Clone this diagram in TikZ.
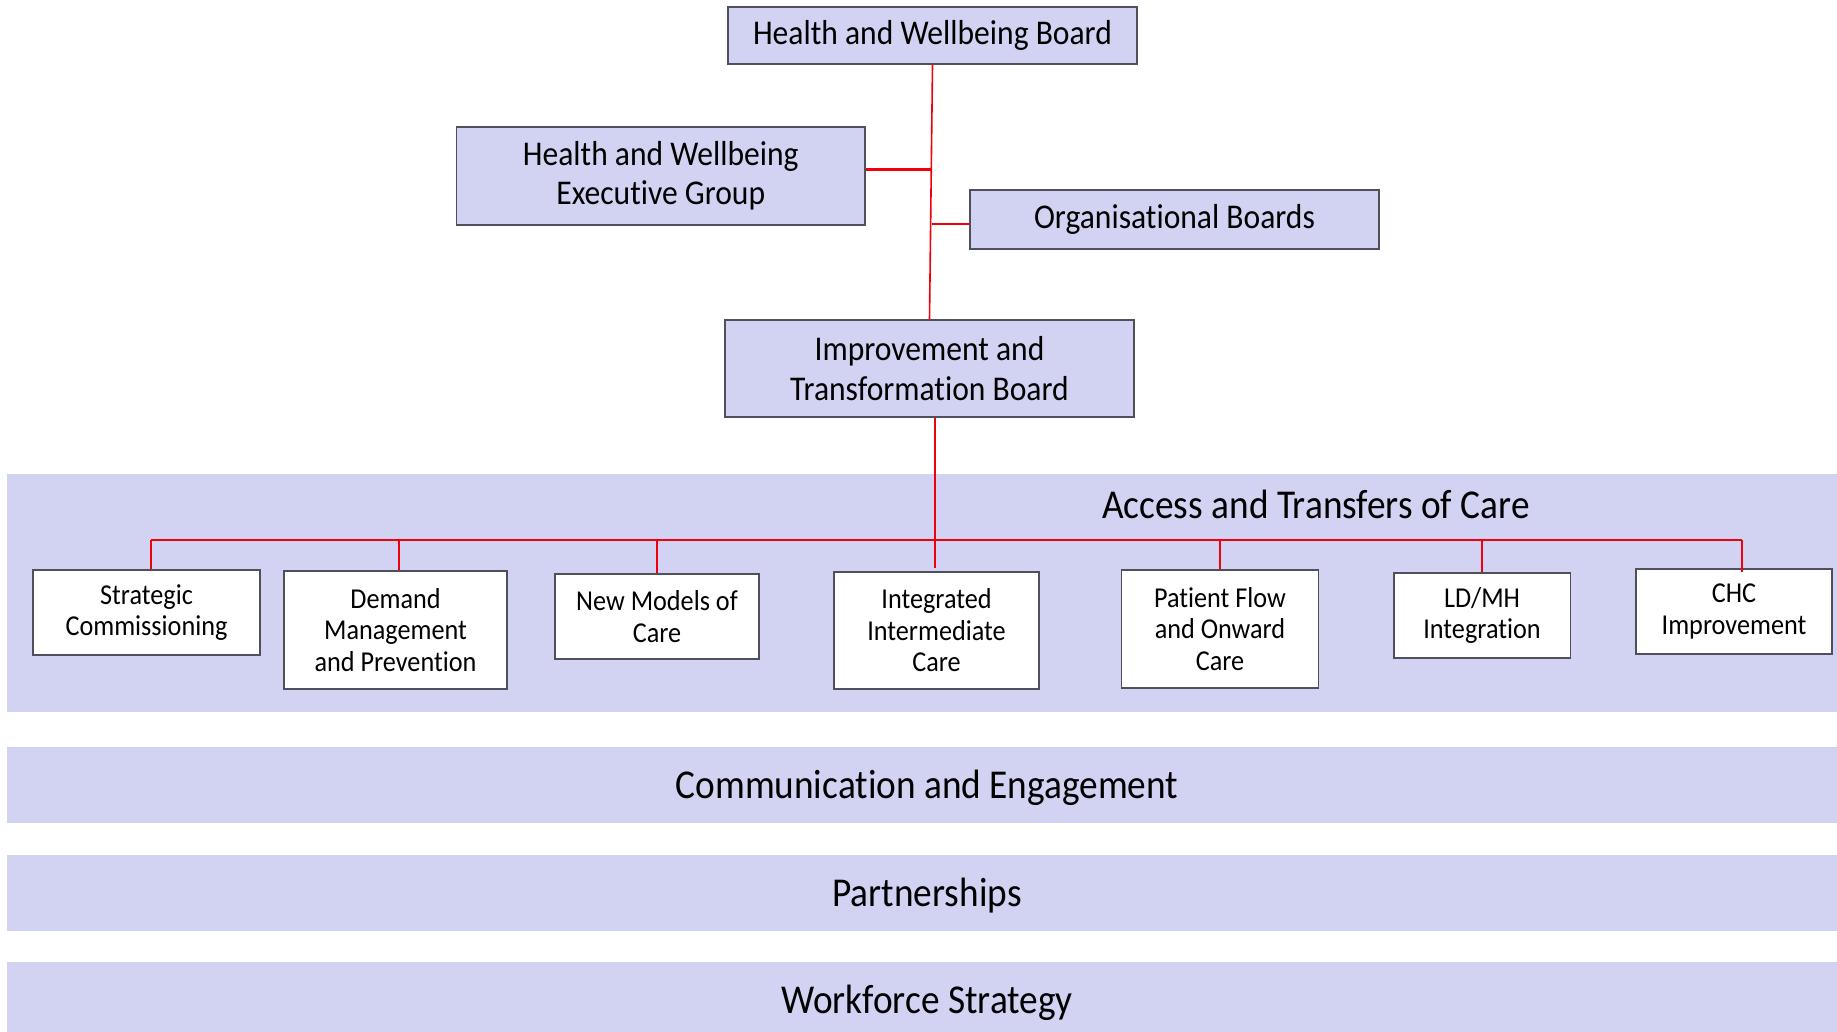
\documentclass[tikz,border=0pt]{standalone}
\usepackage{fontspec}
\setmainfont{Carlito}[FakeStretch=0.91, Ligatures=NoCommon]
\usetikzlibrary{positioning}
\definecolor{lav}{RGB}{210,210,243}
\definecolor{edge}{RGB}{80,80,92}
\definecolor{conn}{RGB}{240,0,10}
\tikzset{
  topbox/.style={draw=edge, line width=1.5pt, fill=lav, minimum width=#1, align=center, inner sep=0pt, font=\fontsize{34.7}{39.5}\selectfont},
  subbox/.style={draw=edge, line width=1.5pt, fill=white, align=center, inner sep=0pt, font=\fontsize{28.8}{31.5}\selectfont},
  band/.style={fill=lav, draw=none},
  bandtext/.style={font=\fontsize{41}{46}\selectfont, inner sep=0pt},
  redline/.style={draw=conn, line width=2pt},
}
\begin{document}
\begin{tikzpicture}[x=1pt,y=-1pt]
\useasboundingbox (0,0) rectangle (1837,1032);
% bands
\path[band] (7,474) rectangle (1837,712);
\path[band] (7,747) rectangle (1837,822.5);
\path[band] (7,855) rectangle (1837,930.5);
\path[band] (7,962) rectangle (1837,1032);
\node[bandtext, anchor=base west] (access) at (1102,518) {Access and Transfers of Care};
\node[bandtext, anchor=base] (comm) at (927,798) {Communication and Engagement};
\node[bandtext, anchor=base] (part) at (927,906) {Partnerships};
\node[bandtext, anchor=base] (work) at (927,1013) {Workforce Strategy};
% top boxes
\node[topbox, minimum width=409pt, minimum height=57pt] (hwb) at (932.5,35.5) {Health and Wellbeing Board};
\node[topbox, minimum width=408.5pt, minimum height=98pt] (exec) at (660.75,176) {Health and Wellbeing\\Executive Group};
\node[topbox, minimum width=409pt, minimum height=59pt] (org) at (1174.5,219.5) {Organisational Boards};
\node[topbox, minimum width=409pt, minimum height=97pt] (itb) at (929.5,368.5) {Improvement and\\Transformation Board};
% sub boxes
\node[subbox, minimum width=227pt, minimum height=85pt] (strat) at (146.5,612.5) {Strategic\\Commissioning};
\node[subbox, minimum width=223pt, minimum height=118pt] (dem) at (395.5,630) {Demand\\Management\\and Prevention};
\node[subbox, minimum width=204pt, minimum height=85pt] (nmc) at (657,616.5) {New Models of\\Care};
\node[subbox, minimum width=205pt, minimum height=117pt] (iic) at (936.5,630.5) {Integrated\\Intermediate\\Care};
\node[subbox, minimum width=197pt, minimum height=118pt] (pfc) at (1220,629) {Patient Flow\\and Onward\\Care};
\node[subbox, minimum width=176.5pt, minimum height=85pt] (ldmh) at (1482,615.5) {LD/MH\\Integration};
\node[subbox, minimum width=196pt, minimum height=85pt] (chc) at (1734,611.5) {CHC\\Improvement};
% connectors
\coordinate (jexec) at (932,170);
\coordinate (jorg) at (931.5,224);
\coordinate (hl) at (151,540);
\coordinate (hr) at (1741.5,540);
\coordinate (cend) at (935,568);
\draw[redline, line width=1.6pt] (hwb.south) -- (itb.north);
\draw[redline, line width=3pt] (exec.east |- jexec) -- (jexec);
\draw[redline] (jorg) -- (org.west |- jorg);
\draw[redline, line width=1.6pt] (itb.south -| cend) -- (cend);
\draw[redline] (hl) -- (hr);
\draw[redline, line width=2.5pt] (hl) -- (strat.north -| hl);
\draw[redline, line width=1.6pt] (399,540) -- (dem.north -| 399,0);
\draw[redline] (656.7,540) -- (nmc.north -| 656.7,0);
\draw[redline, line width=1.6pt] (1220,540) -- (pfc.north -| 1220,0);
\draw[redline, line width=2.5pt] (1482,540) -- (ldmh.north -| 1482,0);
\draw[redline] (hr) -- ([yshift=-4pt]chc.north -| hr);
\end{tikzpicture}
\end{document}
